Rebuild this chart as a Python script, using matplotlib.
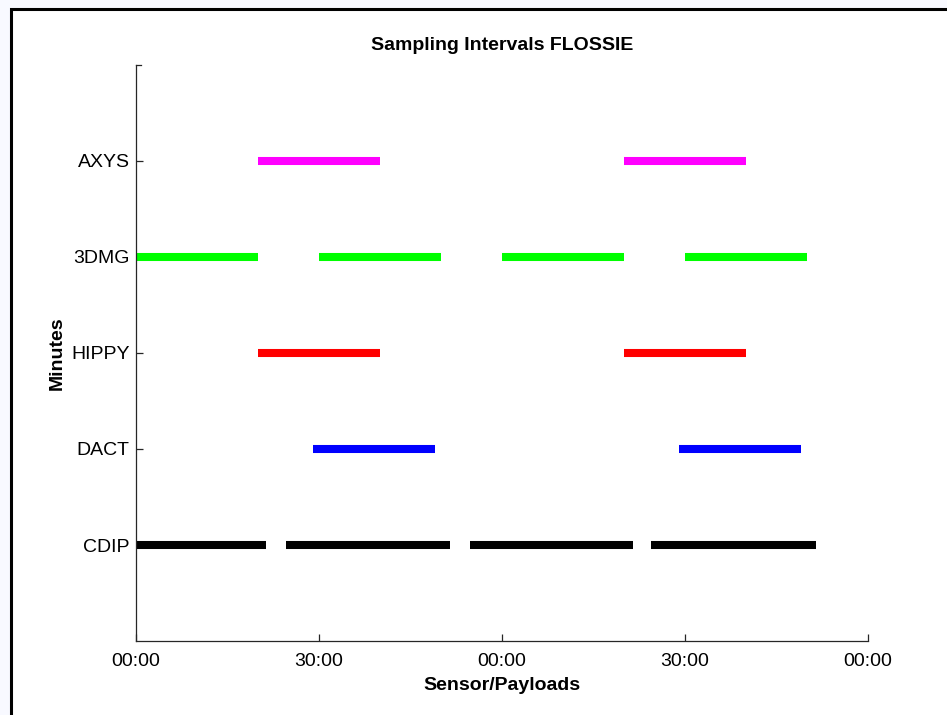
import matplotlib
matplotlib.use("Agg")
import matplotlib.pyplot as plt
from matplotlib.patches import Rectangle

plt.rcParams['font.family'] = ['Liberation Sans', 'DejaVu Sans']

sensors = ['CDIP', 'DACT', 'HIPPY', '3DMG', 'AXYS']
colors = ['#000000', '#0000ff', '#ff0000', '#00ff00', '#ff00ff']

cdip_starts = [0.0, 24.6, 54.7, 84.4]
cdip_ends = [21.3, 51.5, 81.5, 111.4]
dact_starts = [29.0, 89.0]
dact_ends = [49.0, 109.0]
hippy_starts = [20.0, 80.0]
hippy_ends = [40.0, 100.0]
dmg_starts = [0.0, 30.0, 60.0, 90.0]
dmg_ends = [20.0, 50.0, 80.0, 110.0]
axys_starts = [20.0, 80.0]
axys_ends = [40.0, 100.0]

xtick_vals = [0, 30, 60, 90, 120]
xtick_labels = ['00:00', '30:00', '00:00', '30:00', '00:00']

starts = [cdip_starts, dact_starts, hippy_starts, dmg_starts, axys_starts]
ends = [cdip_ends, dact_ends, hippy_ends, dmg_ends, axys_ends]

fig = plt.figure(figsize=(9.47, 7.15), dpi=100)
fig.patch.set_facecolor('#f8f9ff')
W, H = 947, 715
border = Rectangle((11 / W, -0.05), 1.1, (H - 9) / H + 0.05,
                   transform=fig.transFigure, facecolor='white',
                   edgecolor='black', linewidth=2.2, zorder=-10)
fig.add_artist(border)

ax = fig.add_axes([136 / W, 1 - 641 / H, (868 - 136) / W, (641 - 65) / H])
ax.set_facecolor('none')
ax.set_zorder(5)

for i, (s, e) in enumerate(zip(starts, ends)):
    y = i + 1
    for a, b in zip(s, e):
        ax.plot([a, b], [y, y], color=colors[i], linewidth=5.8,
                solid_capstyle='butt', clip_on=False)

ax.set_xlim(0, 120)
ax.set_ylim(0, 6)
ax.set_xticks(xtick_vals)
ax.set_xticklabels(xtick_labels)
ax.set_yticks(range(1, len(sensors) + 1))
ax.set_yticklabels(sensors)

for sp in ['top', 'right']:
    ax.spines[sp].set_visible(False)
axcol = '#262626'
for sp in ['left', 'bottom']:
    ax.spines[sp].set_color(axcol)
    ax.spines[sp].set_linewidth(0.9)
ax.tick_params(direction='in', length=5, width=0.9, color=axcol,
               labelsize=14, labelcolor='black')
ax.tick_params(axis='x', pad=9)
ax.tick_params(axis='y', pad=4.5)
ax.plot([0, 0.8], [6, 6], color=axcol, linewidth=0.9, clip_on=False)

ax.set_title('Sampling Intervals FLOSSIE', fontsize=14, fontweight='bold', pad=11)
ax.set_xlabel('Sensor/Payloads', fontsize=14, fontweight='bold', labelpad=5)
ax.set_ylabel('Minutes', fontsize=14, fontweight='bold', labelpad=4)

fig.savefig('out.png', dpi=100, facecolor=fig.get_facecolor())
